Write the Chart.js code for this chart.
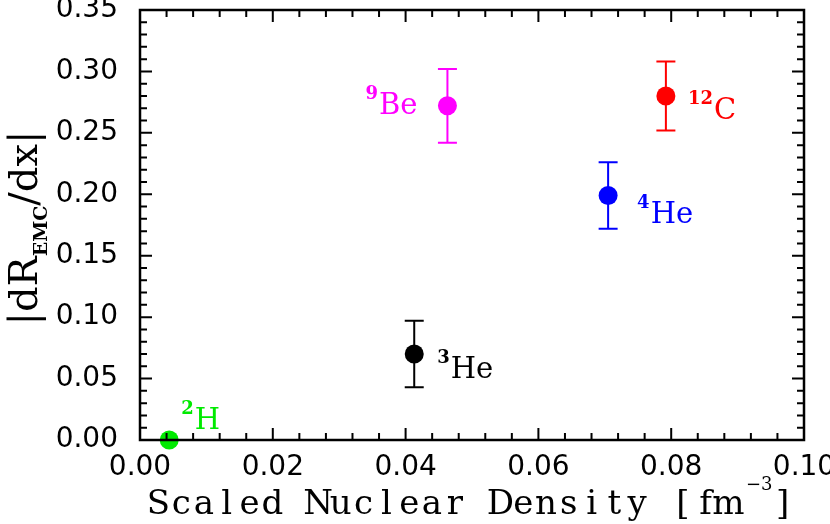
<!DOCTYPE html>
<html>
<head>
<meta charset="utf-8">
<script src="https://cdn.jsdelivr.net/npm/chart.js@4.4.0/dist/chart.umd.min.js"></script>
<style>
    html, body { margin: 0; padding: 0; background: #fff; }
</style>
</head>
<body>
<canvas id="emc-chart" width="830" height="524"></canvas>
<script>
// data
const massNumbers = ['2', '3', '9', '4', '12'];
const elements = ['H', 'He', 'Be', 'He', 'C'];
const density = [0.0044, 0.0413, 0.0463, 0.0705, 0.0792];
const emcSlope = [0.000, 0.070, 0.272, 0.199, 0.280];
const slopeErr = [0.000, 0.027, 0.030, 0.027, 0.028];
const xTicks = [0.00, 0.02, 0.04, 0.06, 0.08, 0.10];
const yTicks = [0.00, 0.05, 0.10, 0.15, 0.20, 0.25, 0.30, 0.35];

const colors = ['#00ea00', '#000000', '#ff00ff', '#0000ff', '#ff0000'];
// label placement relative to the marker: [dx, dy, align]
const labelPlacement = [[12, -11, 'left'], [23, 24, 'left'], [-30, 8, 'right'], [29, 27, 'left'], [22, 23, 'left']];

const SERIF = '"DejaVu Serif", "Liberation Serif", serif';
const SANS = '"DejaVu Sans", sans-serif';

// frame with inward ticks on all four sides
const frameTicks = {
    id: 'frameTicks',
    afterDraw(chart) {
        const { ctx, chartArea: a, scales: { x, y } } = chart;
        ctx.save();
        ctx.strokeStyle = '#000';
        ctx.lineWidth = 2;
        for (let i = 0; i <= 25; i++) {
            const px = x.getPixelForValue(i * 0.004);
            const len = i % 5 === 0 ? 12 : 7;
            ctx.beginPath();
            ctx.moveTo(px, a.bottom); ctx.lineTo(px, a.bottom - len);
            ctx.moveTo(px, a.top); ctx.lineTo(px, a.top + len);
            ctx.stroke();
        }
        for (let i = 0; i <= 35; i++) {
            const py = y.getPixelForValue(i * 0.01);
            const len = i % 5 === 0 ? 12 : 7;
            ctx.beginPath();
            ctx.moveTo(a.left, py); ctx.lineTo(a.left + len, py);
            ctx.moveTo(a.right, py); ctx.lineTo(a.right - len, py);
            ctx.stroke();
        }
        ctx.lineWidth = 2.5;
        ctx.strokeRect(a.left, a.top, a.right - a.left, a.bottom - a.top);
        ctx.restore();
    }
};

const errorBars = {
    id: 'errorBars',
    beforeDatasetsDraw(chart) {
        const { ctx, scales: { x, y } } = chart;
        ctx.save();
        ctx.lineWidth = 2;
        density.forEach((d, i) => {
            if (!slopeErr[i]) return;
            const px = x.getPixelForValue(d);
            const top = y.getPixelForValue(emcSlope[i] + slopeErr[i]);
            const bot = y.getPixelForValue(emcSlope[i] - slopeErr[i]);
            ctx.strokeStyle = colors[i];
            ctx.beginPath();
            ctx.moveTo(px, top); ctx.lineTo(px, bot);
            ctx.moveTo(px - 9.5, top); ctx.lineTo(px + 9.5, top);
            ctx.moveTo(px - 9.5, bot); ctx.lineTo(px + 9.5, bot);
            ctx.stroke();
        });
        ctx.restore();
    }
};

const pointLabels = {
    id: 'pointLabels',
    afterDatasetsDraw(chart) {
        const { ctx, scales: { x, y } } = chart;
        ctx.save();
        ctx.textBaseline = 'alphabetic';
        ctx.textAlign = 'left';
        density.forEach((d, i) => {
            const [dx, dy, align] = labelPlacement[i];
            const supFont = 'bold 18px ' + SERIF;
            const mainFont = '29px ' + SERIF;
            ctx.font = supFont;
            const ws = ctx.measureText(massNumbers[i]).width;
            ctx.font = mainFont;
            const wm = ctx.measureText(elements[i]).width;
            let sx = x.getPixelForValue(d) + dx;
            if (align === 'right') sx -= ws + wm + 1;
            const base = y.getPixelForValue(emcSlope[i]) + dy;
            ctx.fillStyle = colors[i];
            ctx.font = supFont;
            ctx.fillText(massNumbers[i], sx, base - 15);
            ctx.font = mainFont;
            ctx.fillText(elements[i], sx + ws + 1, base);
        });
        ctx.restore();
    }
};

const axisTitles = {
    id: 'axisTitles',
    afterDraw(chart) {
        const { ctx } = chart;
        ctx.save();
        ctx.fillStyle = '#000';
        ctx.textBaseline = 'alphabetic';
        ctx.textAlign = 'left';

        // x title, monospaced look
        const xText = 'Scaled Nuclear Density [fm';
        const adv = 22.8;
        let cx = 147;
        ctx.font = '34px ' + SERIF;
        for (const ch of xText) {
            const w = ctx.measureText(ch).width;
            ctx.fillText(ch, cx + (adv - w) / 2, 514);
            cx += adv;
        }
        ctx.font = '18px ' + SERIF;
        ctx.fillText('\u22123', 746, 490);
        ctx.font = '34px ' + SERIF;
        ctx.fillText(']', 776, 514);

        // y title, rotated
        ctx.translate(37, 228);
        ctx.rotate(-Math.PI / 2);
        const big = '40px ' + SERIF;
        const sub = 'bold 19px ' + SERIF;
        ctx.font = big;
        const w1 = ctx.measureText('|dR').width;
        const w3 = ctx.measureText('/dx|').width;
        ctx.font = sub;
        const w2 = ctx.measureText('EMC').width;
        let tx = -(w1 + w2 + w3) / 2;
        ctx.font = big;
        ctx.fillText('|dR', tx, 0);
        tx += w1;
        ctx.font = sub;
        ctx.fillText('EMC', tx, 10);
        tx += w2;
        ctx.font = big;
        ctx.fillText('/dx|', tx, 0);
        ctx.restore();
    }
};

// keep the plot frame where the original has it
function noLabelPadding(s) {
    s.paddingTop = 0;
    s.paddingBottom = 0;
    s.paddingLeft = 0;
    s.paddingRight = 0;
}

const tickFont = { family: SANS, size: 28 };

new Chart(document.getElementById('emc-chart').getContext('2d'), {
    type: 'scatter',
    data: {
        datasets: [{
            data: density.map((d, i) => ({ x: d, y: emcSlope[i] })),
            backgroundColor: colors,
            borderWidth: 0,
            pointRadius: 9.5,
            pointHoverRadius: 9.5,
            clip: false
        }]
    },
    options: {
        responsive: false,
        animation: false,
        devicePixelRatio: 1,
        layout: { autoPadding: false, padding: { top: 10, right: 26, left: 0, bottom: 0 } },
        plugins: {
            legend: { display: false },
            tooltip: { enabled: false }
        },
        scales: {
            x: {
                type: 'linear',
                min: 0,
                max: 0.1,
                afterBuildTicks: s => { s.ticks = xTicks.map(v => ({ value: v })); },
                afterFit: s => { s.height = 84; noLabelPadding(s); },
                grid: { display: false, drawTicks: false },
                border: { display: false },
                ticks: { padding: 11, color: '#000', font: tickFont, maxRotation: 0, autoSkip: false,
                         callback: v => v.toFixed(2) }
            },
            y: {
                type: 'linear',
                min: 0,
                max: 0.35,
                afterBuildTicks: s => { s.ticks = yTicks.map(v => ({ value: v })); },
                afterFit: s => { s.width = 140; noLabelPadding(s); },
                grid: { display: false, drawTicks: false },
                border: { display: false },
                ticks: { padding: 22, color: '#000', font: tickFont, autoSkip: false,
                         callback: v => v.toFixed(2) }
            }
        }
    },
    plugins: [errorBars, pointLabels, frameTicks, axisTitles]
});
</script>
</body>
</html>
